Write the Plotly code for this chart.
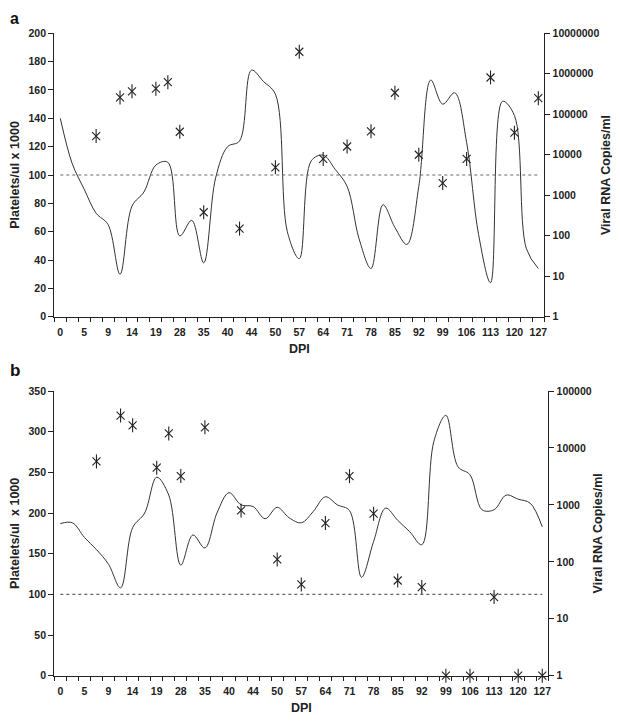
import plotly.graph_objects as go

# ---------------- data ----------------
# 41 sampling points per panel; every second one is labelled on the axis
DPI_LABELS = ["0", "5", "9", "14", "19", "28", "35", "40", "44", "50", "57",
              "64", "71", "78", "85", "92", "99", "106", "113", "120", "127"]

# Panel a: platelets (x1000 / ul), one value per sampling point
PLATELETS_A = [140, 108, 90, 73, 65, 30, 78, 88, 107, 109,
               57, 68, 38, 98, 120, 124, 174, 166, 157, 60,
               41, 110, 114, 104, 92, 55, 34, 79, 63, 51,
               92, 167, 150, 158, 123, 58, 24, 152, 142, 48, 34]
# Panel a: viral RNA (copies/ml) at selected sampling points
VIRAL_A_POINT = [3, 5, 6, 8, 9, 10, 12, 15, 18, 20, 22, 24, 26, 28, 30, 32, 34, 36, 38, 40]
VIRAL_A = [29000, 260000, 370000, 430000, 620000, 37000, 380, 150, 4900, 3500000,
           7900, 16000, 38000, 340000, 10000, 2000, 7900, 810000, 35000, 250000]

# Panel b
PLATELETS_B = [187, 188, 170, 155, 137, 108, 182, 200, 244, 222,
               136, 173, 157, 200, 225, 210, 208, 193, 207, 194,
               188, 202, 220, 210, 203, 121, 165, 206, 191, 177,
               161, 288, 320, 257, 247, 204, 204, 222, 217, 212, 183]
VIRAL_B_POINT = [3, 5, 6, 8, 9, 10, 12, 15, 18, 20, 22, 24, 26, 28, 30, 32, 34, 36, 38, 40]
VIRAL_B = [5800, 37000, 25000, 4500, 18000, 3200, 23000, 800, 110, 40,
           480, 3200, 700, 47, 36, 1, 1, 24, 1, 1]

THRESHOLD = 100  # platelet reference line

LOG_TICKS_A = [1, 10, 100, 1000, 10000, 100000, 1000000, 10000000]
LOG_TICKS_B = [1, 10, 100, 1000, 10000, 100000]

# ---------------- figure ----------------
FONT = "Liberation Sans, Arial, sans-serif"
INK = "#222222"
n_points = len(PLATELETS_A)
points = list(range(n_points))
label_points = points[::2]
boundaries = [p - 0.5 for p in range(n_points + 1)]

# page body has an 8px margin; lay out in page pixels and shift
OFF = 8
W, H = 620 - OFF, 721 - OFF


def fx(px):
    return (px - OFF) / W


def fy(py):
    return 1 - (py - OFF) / H


fig = go.Figure()


def add_panel(xa, ya, ya2, plate, vpoint, vval):
    fig.add_trace(go.Scatter(
        x=points, y=plate, mode="lines",
        line=dict(color="#333333", width=1, shape="spline", smoothing=1.0),
        xaxis=xa, yaxis=ya, hoverinfo="skip"))
    fig.add_trace(go.Scatter(
        x=vpoint, y=vval, mode="markers",
        marker=dict(symbol="x-thin-open", size=8, color=INK,
                    line=dict(color=INK, width=1.1)),
        xaxis=xa, yaxis=ya2, cliponaxis=False))
    fig.add_trace(go.Scatter(
        x=vpoint, y=vval, mode="markers",
        marker=dict(symbol="line-ns-open", size=10, color=INK,
                    line=dict(color=INK, width=1.1)),
        xaxis=xa, yaxis=ya2, cliponaxis=False))
    fig.add_shape(type="line", xref=xa, yref=ya,
                  x0=points[0], x1=points[-1], y0=THRESHOLD, y1=THRESHOLD,
                  line=dict(color="#666666", width=1.2, dash="dot"))


add_panel("x", "y", "y2", PLATELETS_A, VIRAL_A_POINT, VIRAL_A)
add_panel("x2", "y3", "y4", PLATELETS_B, VIRAL_B_POINT, VIRAL_B)

tickfont = dict(family=FONT, size=10.5, color=INK, weight="bold")
titlefont = dict(family=FONT, size=12.5, color=INK, weight="bold")


def xaxis(domain, anchor):
    return dict(
        domain=domain, anchor=anchor, range=[-0.5, n_points - 0.5],
        tickmode="array", tickvals=label_points, ticktext=DPI_LABELS,
        ticks="outside", ticklen=6, tickcolor="rgba(0,0,0,0)",
        minor=dict(tickmode="array", tickvals=boundaries, ticks="outside",
                   ticklen=4, tickwidth=1, tickcolor=INK, showgrid=False),
        showline=True, linecolor=INK, linewidth=1.3, showgrid=False,
        zeroline=False, tickfont=tickfont, automargin=False,
        title=dict(text="DPI", font=titlefont, standoff=6))


def yleft(domain, anchor, rng, dtick, title):
    return dict(
        domain=domain, anchor=anchor, range=rng, dtick=dtick, tick0=0,
        ticks="outside", ticklen=5, tickwidth=1, tickcolor=INK,
        showline=True, linecolor=INK, linewidth=1.3, showgrid=False,
        zeroline=False, tickfont=tickfont, automargin=False,
        title=dict(text=title, font=titlefont, standoff=6))


def yright(overlay, anchor, rng, ticks):
    return dict(
        overlaying=overlay, anchor=anchor, side="right", type="log", range=rng,
        tickmode="array", tickvals=ticks, ticktext=[str(t) for t in ticks],
        ticks="outside", ticklen=5, tickwidth=1, tickcolor=INK,
        showline=True, linecolor=INK, linewidth=1.3, showgrid=False,
        zeroline=False, tickfont=tickfont, automargin=False,
        title=dict(text="Viral RNA Copies/ml", font=titlefont, standoff=2))


fig.update_layout(
    width=W, height=H,
    margin=dict(l=0, r=0, t=0, b=0, autoexpand=False),
    paper_bgcolor="white", plot_bgcolor="white",
    showlegend=False,
    xaxis=xaxis([fx(54.3), fx(544.3)], "y"),
    yaxis=yleft([fy(316.7), fy(33.3)], "x", [0, 200], 20,
                "Platelets/ul x 1000"),
    yaxis2=yright("y", "x", [0, 7], LOG_TICKS_A),
    xaxis2=xaxis([fx(54.3), fx(548.3)], "y3"),
    yaxis3=yleft([fy(675.7), fy(391)], "x2", [0, 350], 50,
                 "Platelets/ul  x 1000"),
    yaxis4=yright("y3", "x2", [0, 5], LOG_TICKS_B),
    annotations=[
        dict(text="a", x=fx(8), y=1.0, xref="paper", yref="paper",
             xanchor="left", yanchor="top", showarrow=False,
             font=dict(family=FONT, size=16, color="#111111", weight="bold")),
        dict(text="b", x=fx(8), y=fy(371), xref="paper", yref="paper",
             xanchor="left", yanchor="middle", showarrow=False,
             font=dict(family=FONT, size=17, color="#111111", weight="bold")),
    ],
)

fig.write_html("out.html")
